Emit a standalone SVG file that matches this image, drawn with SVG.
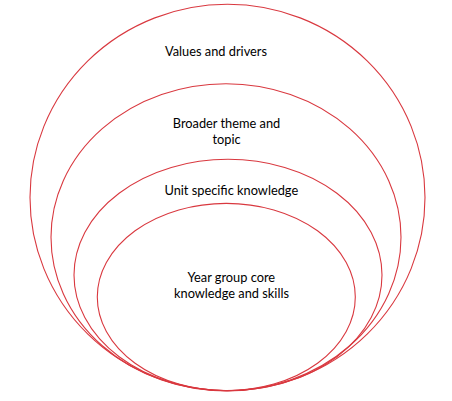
<svg xmlns="http://www.w3.org/2000/svg" width="452" height="401" viewBox="0 0 452 401">
<style>
.ring{fill:none;stroke:#d9383f;stroke-width:1.1}
.lbl{font-family:Lato,"Liberation Sans",sans-serif;font-size:12.8px;fill:#000000;text-anchor:middle}
</style>
<rect width="452" height="401" fill="#ffffff"/>
<g id="values">
<ellipse class="ring" cx="227.5" cy="197.5" rx="197.5" ry="193.2"/>
<text class="lbl" x="216" y="56">Values and drivers</text>
</g>
<g id="broader">
<ellipse class="ring" cx="226" cy="237.2" rx="175" ry="153.5"/>
<text class="lbl" x="226.5" y="127.5">Broader theme and</text>
<text class="lbl" x="226.5" y="144">topic</text>
</g>
<g id="unit">
<ellipse class="ring" cx="228" cy="275" rx="154" ry="115.7"/>
<text class="lbl" x="231.3" y="195">Unit specific knowledge</text>
</g>
<g id="core">
<ellipse class="ring" cx="226.3" cy="297" rx="129" ry="93.6"/>
<text class="lbl" x="231.3" y="281.5">Year group core</text>
<text class="lbl" x="231.5" y="298">knowledge and skills</text>
</g>
<g id="connectors"></g>
</svg>
